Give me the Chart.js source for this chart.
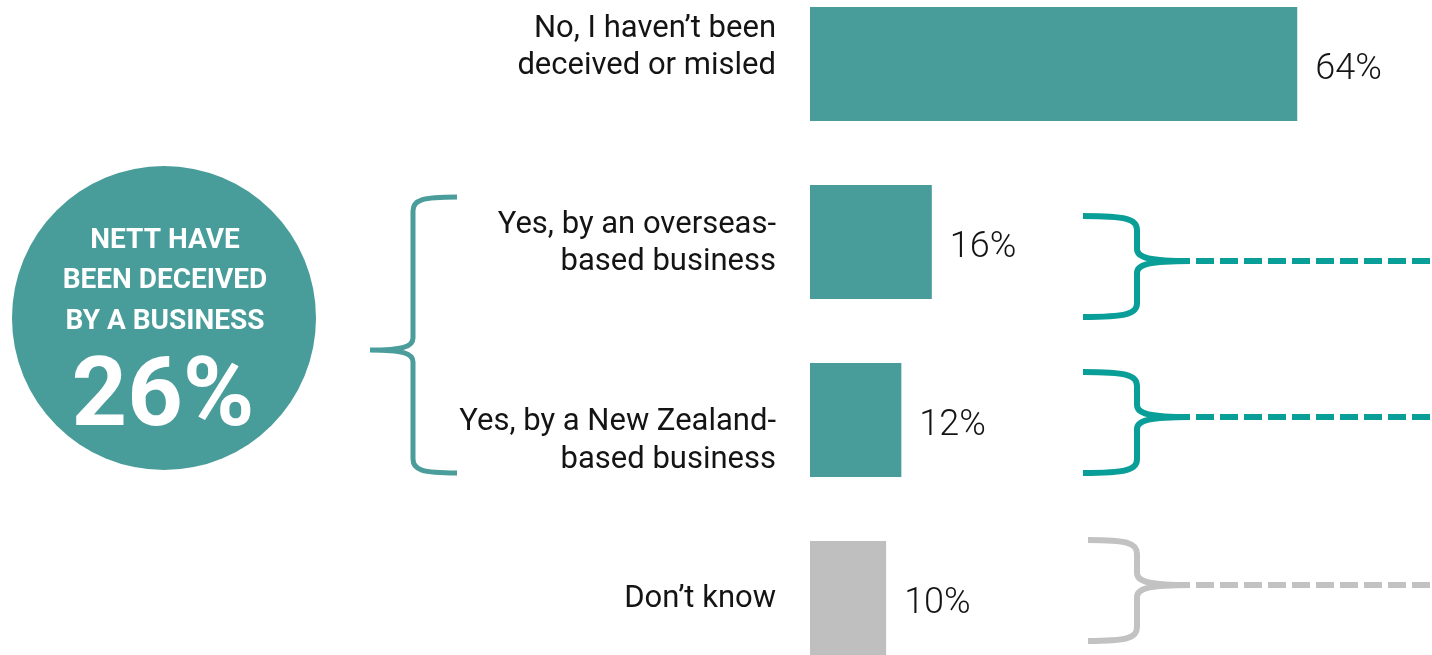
<!DOCTYPE html>
<html><head><meta charset="utf-8">
<script src="https://cdn.jsdelivr.net/npm/chart.js@4/dist/chart.umd.min.js"></script>
<style>
html,body{margin:0;padding:0;background:#fff;overflow:hidden;width:1432px;height:655px}
#wrap{position:absolute;left:0;top:-25px;width:1432px;height:712px}
</style></head><body>
<div id="wrap"><canvas id="c"></canvas></div>
<script>
// ---- data ----
const categories = [
  ["No, I haven\u2019t been", "deceived or misled"],
  ["Yes, by an overseas-", "based business"],
  ["Yes, by a New Zealand-", "based business"],
  ["Don\u2019t know"]
];
const values = [64, 16, 12, 10];
const valueLabels = ["64%", "16%", "12%", "10%"];
const nettLines = ["NETT HAVE", "BEEN DECEIVED", "BY A BUSINESS"];
const nettValue = "26%";

// ---- style ----
const TEAL = "#489c99";
const GREY = "#bfbfbf";
const barColors = [TEAL, TEAL, TEAL, GREY];
const BRACE_TEAL = "#0a9e99";
const BRACE_GREY = "#c2c2c2";
const DY = 25; // canvas is shifted up by 25px
const labelBaselineOffsets = [[-27, 10], [-9, 28], [10, 48], [9]];

function brace(ctx, xArm, xV, xP, yT, yM, yB, color, lw) {
  ctx.save();
  ctx.strokeStyle = color;
  ctx.lineWidth = lw;
  ctx.lineCap = "butt";
  ctx.lineJoin = "round";
  ctx.beginPath();
  ctx.moveTo(xArm, yT);
  ctx.bezierCurveTo(xV + (xArm - xV) * 0.2, yT, xV, yT + 3, xV, yT + 14);
  ctx.lineTo(xV, yM - 12);
  ctx.bezierCurveTo(xV, yM - 3, xV + (xP - xV) * 0.25, yM, xP, yM);
  ctx.moveTo(xP, yM);
  ctx.bezierCurveTo(xV + (xP - xV) * 0.25, yM, xV, yM + 3, xV, yM + 12);
  ctx.lineTo(xV, yB - 14);
  ctx.bezierCurveTo(xV, yB - 3, xV + (xArm - xV) * 0.2, yB, xArm, yB);
  ctx.stroke();
  ctx.restore();
}

const decor = {
  id: "decor",
  afterDatasetsDraw(chart) {
    const ctx = chart.ctx;
    const ys = chart.scales.y, xs = chart.scales.x;
    ctx.save();
    // category labels
    ctx.fillStyle = "#141414";
    ctx.font = "400 31px Roboto";
    ctx.textAlign = "right";
    ctx.textBaseline = "alphabetic";
    categories.forEach((lines, i) => {
      const yc = ys.getPixelForValue(i);
      lines.forEach((t, j) => ctx.fillText(t, 776, yc + labelBaselineOffsets[i][j]));
    });
    // value labels
    ctx.font = "300 36px Roboto";
    ctx.textAlign = "left";
    values.forEach((v, i) => {
      const yc = ys.getPixelForValue(i);
      ctx.fillText(valueLabels[i], xs.getPixelForValue(v) + 18, yc + 15, 70);
    });
    // circle
    ctx.fillStyle = TEAL;
    ctx.beginPath();
    ctx.arc(164, 318 + DY, 152, 0, Math.PI * 2);
    ctx.fill();
    ctx.fillStyle = "#ffffff";
    ctx.textAlign = "center";
    ctx.font = "700 28px Roboto";
    const bl = [248, 288, 329];
    nettLines.forEach((t, i) => ctx.fillText(t, 165, bl[i] + DY, 206));
    ctx.font = "700 97px Roboto";
    ctx.fillText(nettValue, 163, 425 + DY, 184);
    ctx.restore();

    // left big brace
    brace(ctx, 457, 413, 370, 197 + DY, 350 + DY, 473 + DY, "#4a9d9a", 5);
    // right braces + dashed lines
    const rb = [
      [1083, 1137, 1190, 216, 261, 317, BRACE_TEAL],
      [1083, 1137, 1190, 372, 417, 473, BRACE_TEAL],
      [1088, 1137, 1190, 540, 585, 641, BRACE_GREY]
    ];
    rb.forEach(b => {
      brace(ctx, b[0], b[1], b[2], b[3] + DY, b[4] + DY, b[5] + DY, b[6], 6);
      ctx.save();
      ctx.strokeStyle = b[6];
      ctx.lineWidth = 6;
      ctx.setLineDash([18, 6]);
      ctx.beginPath();
      ctx.moveTo(1196, b[4] + DY);
      ctx.lineTo(1432, b[4] + DY);
      ctx.stroke();
      ctx.restore();
    });
  }
};

function build() {
  new Chart(document.getElementById("c"), {
    type: "bar",
    data: {
      labels: categories,
      datasets: [{
        data: values,
        backgroundColor: barColors,
        borderWidth: 0,
        categoryPercentage: 1,
        barPercentage: 0.64
      }]
    },
    options: {
      indexAxis: "y",
      responsive: true,
      maintainAspectRatio: false,
      animation: false,
      layout: { padding: { left: 810, right: 0, top: 0, bottom: 0 } },
      plugins: { legend: { display: false }, tooltip: { enabled: false } },
      scales: {
        x: { type: "linear", min: 0, max: 81.7, display: false },
        y: { display: false, offset: true, grid: { display: false } }
      }
    },
    plugins: [decor]
  });
}
Promise.all([
  document.fonts.load("400 31px Roboto"),
  document.fonts.load("300 36px Roboto"),
  document.fonts.load("700 28px Roboto")
]).then(build, build);
</script>
</body></html>
